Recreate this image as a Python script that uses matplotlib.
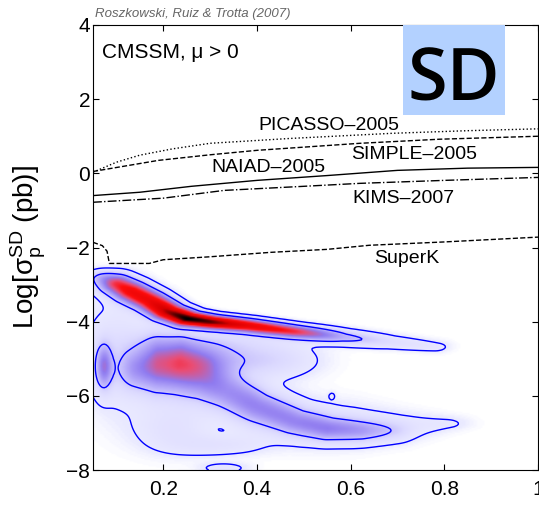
import numpy as np
import matplotlib
matplotlib.use("Agg")
import matplotlib.pyplot as plt
from matplotlib.colors import LinearSegmentedColormap
from matplotlib.patches import Rectangle

plt.rcParams['font.family'] = ['Liberation Sans', 'DejaVu Sans']
plt.rcParams['mathtext.fontset'] = 'custom'
plt.rcParams['mathtext.rm'] = 'Liberation Sans'
plt.rcParams['mathtext.it'] = 'Liberation Sans:italic'

# experimental upper limits, log10 sigma_p^SD (pb) vs neutralino mass (TeV)
picasso_x = [0.05, 0.10, 0.15, 0.22, 0.30, 0.47, 0.69, 0.85, 1.00]
picasso_y = [0.03, 0.30, 0.49, 0.66, 0.81, 0.94, 1.08, 1.15, 1.20]
simple_x = [0.05, 0.12, 0.19, 0.30, 0.40, 0.62, 0.79, 1.00]
simple_y = [0.05, 0.20, 0.35, 0.50, 0.62, 0.81, 0.92, 1.00]
naiad_x = [0.05, 0.15, 0.26, 0.40, 0.55, 0.70, 0.85, 1.00]
naiad_y = [-0.60, -0.51, -0.35, -0.19, -0.06, 0.08, 0.14, 0.16]
kims_x = [0.05, 0.20, 0.33, 0.50, 0.62, 0.80, 1.00]
kims_y = [-0.78, -0.67, -0.46, -0.35, -0.27, -0.19, -0.11]
superk_x = [0.05, 0.07, 0.08, 0.085, 0.17, 0.20, 0.30, 0.43, 0.55, 0.64, 0.80, 1.00]
superk_y = [-1.86, -1.95, -2.10, -2.43, -2.43, -2.33, -2.25, -2.13, -2.05, -1.94, -1.85, -1.72]

# posterior ridges: centre line, peak height, half-width in log sigma
band1_x = [0.078, 0.10, 0.13, 0.17, 0.21, 0.25, 0.30, 0.38, 0.48, 0.58, 0.68, 0.78]
band1_y = [-2.85, -3.00, -3.20, -3.45, -3.75, -3.93, -4.02, -4.12, -4.28, -4.42, -4.55, -4.68]
band1_h = [0.25, 0.50, 0.62, 0.66, 0.85, 1.00, 0.92, 0.68, 0.50, 0.20, 0.08, 0.045]
band1_w = [0.14, 0.18, 0.19, 0.18, 0.15, 0.13, 0.12, 0.12, 0.12, 0.13, 0.13, 0.12]

band2_x = [0.13, 0.15, 0.19, 0.23, 0.28, 0.33, 0.40, 0.48, 0.55, 0.62, 0.68]
band2_y = [-5.40, -5.28, -5.20, -5.25, -5.50, -5.85, -6.30, -6.70, -6.90, -6.95, -6.95]
band2_h = [0.05, 0.24, 0.38, 0.40, 0.33, 0.27, 0.24, 0.24, 0.26, 0.20, 0.10]
band2_w = [0.28, 0.40, 0.50, 0.50, 0.45, 0.38, 0.30, 0.25, 0.22, 0.20, 0.18]

halo_x = [0.40, 0.50, 0.60, 0.70, 0.80]
halo_y = [-6.40, -6.70, -6.80, -6.85, -6.75]
halo_h = [0.06, 0.06, 0.06, 0.05, 0.04]
halo_w = [0.50, 0.45, 0.40, 0.30, 0.15]

# isolated lumps of probability: centre, widths, height
blob_x = [0.10, 0.30, 0.22, 0.32, 0.072, 0.33, 0.29, 0.56, 0.42]
blob_y = [-4.90, -4.55, -6.90, -7.35, -5.22, -7.95, -5.00, -6.00, -5.05]
blob_sx = [0.05, 0.10, 0.06, 0.07, 0.012, 0.035, 0.06, 0.005, 0.07]
blob_sy = [1.00, 0.20, 0.45, 0.20, 0.40, 0.10, 0.30, 0.07, 0.32]
blob_h = [0.07, 0.06, 0.06, 0.05, 0.28, 0.05, 0.15, 0.035, 0.10]

levels = [0.03, 0.15]


def tube(xs, ys, hs, ws, X, Y, sx=0.025, n=400):
    xs, ys = np.asarray(xs), np.asarray(ys)
    seg = np.hypot(np.diff(xs) * 10, np.diff(ys))
    s = np.concatenate([[0], np.cumsum(seg)])
    t = np.linspace(0, s[-1], n)
    cx, cy = np.interp(t, s, xs), np.interp(t, s, ys)
    ch, cw = np.interp(t, s, hs), np.interp(t, s, ws)
    out = np.zeros_like(X)
    for a, b, h, w in zip(cx, cy, ch, cw):
        out = np.maximum(out, h * np.exp(-0.5 * (((X - a) / sx) ** 2 + ((Y - b) / w) ** 2)))
    return out


xg = np.linspace(0.05, 1.0, 240)
yg = np.linspace(-8, 4, 360)
X, Y = np.meshgrid(xg, yg)
dens = tube(band1_x, band1_y, band1_h, band1_w, X, Y)
dens += tube(band2_x, band2_y, band2_h, band2_w, X, Y, sx=0.03)
dens += tube(halo_x, halo_y, halo_h, halo_w, X, Y, sx=0.04)
for a, b, sx, sy, h in zip(blob_x, blob_y, blob_sx, blob_sy, blob_h):
    dens += h * np.exp(-0.5 * (((X - a) / sx) ** 2 + ((Y - b) / sy) ** 2))

cmap = LinearSegmentedColormap.from_list('post', [
    (0.0, (1, 1, 1)), (0.02, (0.92, 0.92, 1.0)), (0.1, (0.86, 0.85, 1.0)),
    (0.2, (0.72, 0.68, 0.98)), (0.32, (0.56, 0.48, 0.94)), (0.45, (0.92, 0.30, 0.45)),
    (0.56, (1, 0.05, 0.05)), (0.8, (0.85, 0, 0)), (1.0, (0, 0, 0))])

fig = plt.figure(figsize=(5.39, 5.05), dpi=100)
ax = fig.add_axes([0.1725, 0.0693, 0.8256, 0.8812])

ax.imshow(dens, extent=[0.05, 1.0, -8, 4], origin='lower', aspect='auto',
          cmap=cmap, vmin=0, vmax=1, interpolation='bilinear')
ax.contour(X, Y, dens, levels=levels, colors='#0000ff', linewidths=1.0)

ax.plot(picasso_x, picasso_y, color='k', ls=':', lw=1.0)
ax.plot(simple_x, simple_y, color='k', ls='--', lw=1.0)
ax.plot(naiad_x, naiad_y, color='k', ls='-', lw=1.0)
ax.plot(kims_x, kims_y, color='k', ls='-.', lw=1.0)
ax.plot(superk_x, superk_y, color='k', ls='--', lw=1.0)

lab = dict(ha='center', va='center', fontsize=14)
ax.text(0.554, 1.30, 'PICASSO\u20132005', **lab)
ax.text(0.735, 0.50, 'SIMPLE\u20132005', **lab)
ax.text(0.425, 0.15, 'NAIAD\u20132005', **lab)
ax.text(0.712, -0.69, 'KIMS\u20132007', **lab)
ax.text(0.720, -2.31, 'SuperK', **lab)

ax.text(0.069, 3.27, 'CMSSM, \u03bc > 0', ha='left', va='center', fontsize=15)

# label box in the top corner
ax.add_patch(Rectangle((0.697, 0.798), 0.229, 0.202, transform=ax.transAxes,
                       facecolor='#b3d1ff', edgecolor='none', zorder=3))
ax.text(0.811, 0.831, 'SD', transform=ax.transAxes, ha='center', va='baseline',
        fontsize=52, family='Open Sans', fontweight='semibold', zorder=4)

fig.text(95 / 539, 1 - 14 / 505, 'Roszkowski, Ruiz & Trotta (2007)', fontsize=9.5,
         style='italic', color='0.4', va='center')

ax.set_xlim(0.05, 1.0)
ax.set_ylim(-8, 4)
ax.set_xticks([0.2, 0.4, 0.6, 0.8, 1.0])
ax.set_xticklabels(['0.2', '0.4', '0.6', '0.8', '1'])
ax.set_yticks(range(-8, 5, 2))
ax.set_yticklabels(['\u22128', '\u22126', '\u22124', '\u22122', '0', '2', '4'])
ax.tick_params(direction='in', top=True, right=True, length=4, labelsize=15)
ax.tick_params(axis='x', pad=7)
ax.tick_params(axis='y', pad=2)
ax.set_ylabel(r'Log[$\mathrm{\sigma}_{\mathrm{p}}^{\mathrm{SD}}$ (pb)]', fontsize=20)
ax.yaxis.set_label_coords(-0.10, 0.5)

fig.savefig('out.png', dpi=100)
